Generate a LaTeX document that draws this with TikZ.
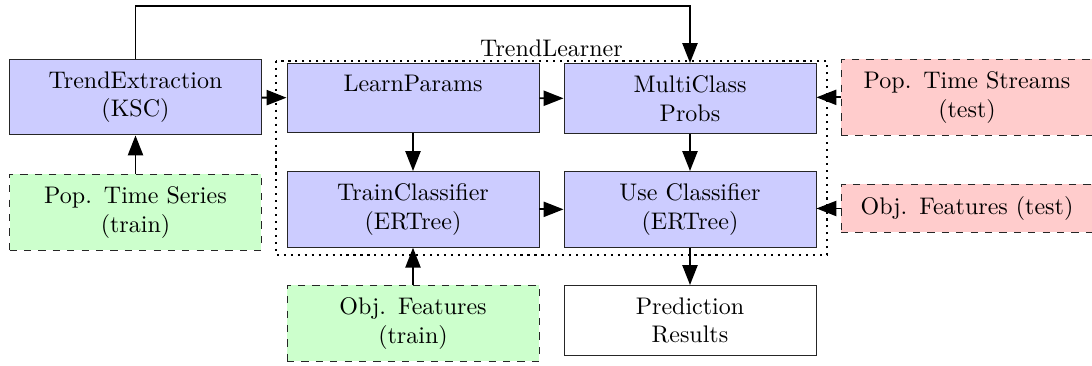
\documentclass[tikz,border=0pt]{standalone}
\usetikzlibrary{arrows.meta}
\begin{document}
\begin{tikzpicture}[x=0.41667pt,y=-0.41667pt,
  box/.style={draw=black!85, line width=0.4pt, text width=95pt, align=center,
              inner sep=5pt, anchor=north},
  proc/.style={box, fill=blue!20},
  trainin/.style={box, dashed, fill=green!20},
  testin/.style={box, dashed, fill=red!20},
  outbox/.style={box, fill=white},
  conn/.style={line width=0.8pt, -{Triangle[length=8.3pt,width=6.3pt]}},
  group/.style={dotted, line width=0.9pt}]
\useasboundingbox (0,0) rectangle (1092,365);

% processing stages
\node[proc] (trend) at (135.5,59) {TrendExtraction\\(KSC)};
\node[proc] (learn) at (413,63) {LearnParams\\\mbox{}};
\node[proc] (multi) at (690,63) {MultiClass\\Probs};
\node[proc] (train) at (413,171) {TrainClassifier\\(ERTree)};
\node[proc] (use)   at (690,171) {Use Classifier\\(ERTree)};

% inputs and output
\node[trainin] (series)  at (135.5,174) {Pop. Time Series\\(train)};
\node[trainin] (objtr)   at (413,285) {Obj. Features\\(train)};
\node[testin]  (streams) at (967,59) {Pop. Time Streams\\(test)};
\node[testin]  (objte)   at (967,184) {Obj. Features (test)};
\node[outbox]  (result)  at (690,285) {Prediction\\Results};

% TrendLearner group
\coordinate (gnw) at (276,61);
\coordinate (gse) at (827,255);
\draw[group] (gnw) rectangle (gse);
\node[anchor=south, inner sep=1.5pt] (glabel) at (551.5,61) {TrendLearner};

% connectors
\coordinate (top) at (135.5,6);
\draw[conn] (trend.north) -- (top) -| (multi.north);
\draw[conn] (series) -- (trend);
\draw[conn] (trend) -- (learn);
\draw[conn] (learn) -- (multi);
\draw[conn] (learn) -- (train);
\draw[conn] (multi) -- (use);
\draw[conn] (train) -- (use);
\draw[conn] (objtr) -- (train);
\draw[conn] (use) -- (result);
\draw[conn] (streams.west) -- (streams.west -| multi.east);
\draw[conn] (objte.west) -- (objte.west -| use.east);
\end{tikzpicture}
\end{document}
